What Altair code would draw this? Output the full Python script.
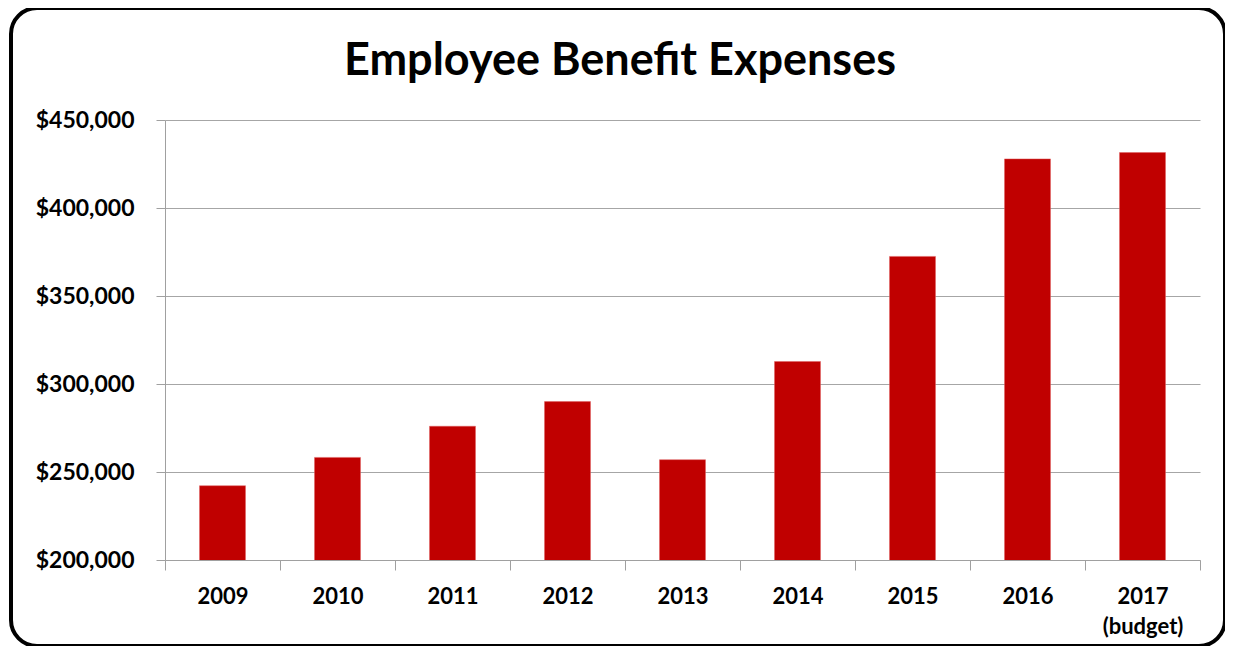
import altair as alt
import pandas as pd

years = ["2009", "2010", "2011", "2012", "2013", "2014", "2015", "2016", "2017\n(budget)"]
expenses = [242200, 258300, 276000, 290000, 257000, 312800, 372500, 427900, 431500]
y_ticks = [200000, 250000, 300000, 350000, 400000, 450000]
title_text = "Employee Benefit Expenses"

df = pd.DataFrame({"year": years, "expense": expenses})

FONT = "Lato"

bars = alt.Chart(df).mark_bar(
    color="#c00000", width=alt.RelativeBandSize(0.4), stroke="#e06060", strokeWidth=0.5,
    clip=True
).encode(
    x=alt.X("year:N", sort=years, title=None,
            scale=alt.Scale(paddingInner=0, paddingOuter=0),
            axis=alt.Axis(labelAngle=0, labelExpr="split(datum.label, '\\n')",
                          labelFont=FONT, labelFontSize=22, labelFontWeight="bold",
                          labelColor="#000000", labelPadding=16, labelLineHeight=30,
                          tickBand="extent", tickSize=10, tickColor="#a0a0a0",
                          domainColor="#a0a0a0", grid=False, labelBaseline="top")),
    y=alt.Y("expense:Q", title=None,
            scale=alt.Scale(domain=[200000, 450000], nice=False, zero=False),
            axis=alt.Axis(values=y_ticks, format="$,.0f", labelFont=FONT,
                          labelFontSize=23, labelFontWeight="bold", labelColor="#000000",
                          labelPadding=22, tickSize=9, tickColor="#a0a0a0",
                          domainColor="#a0a0a0", gridColor="#a6a6a6", gridWidth=1)),
)

border = alt.Chart(pd.DataFrame({"k": [0]})).mark_rect(
    fill=None, stroke="#000000", strokeWidth=4, cornerRadius=26
).encode(
    x=alt.value(-154), x2=alt.value(1060), y=alt.value(-112), y2=alt.value(526)
)

title = alt.Chart(pd.DataFrame({"t": [title_text]})).mark_text(
    font=FONT, fontSize=45, fontWeight="bold", color="#000000",
    align="center", baseline="alphabetic"
).encode(
    text="t:N", x=alt.value(455), y=alt.value(-45)
)

chart = alt.layer(border, bars, title).properties(
    width=1035, height=440,
    autosize=alt.AutoSizeParams(type="none"),
    padding={"left": 157, "top": 112, "right": 25, "bottom": 86},
).configure_view(stroke=None)

chart.save("out.html", embed_options={"renderer": "svg", "actions": False})
